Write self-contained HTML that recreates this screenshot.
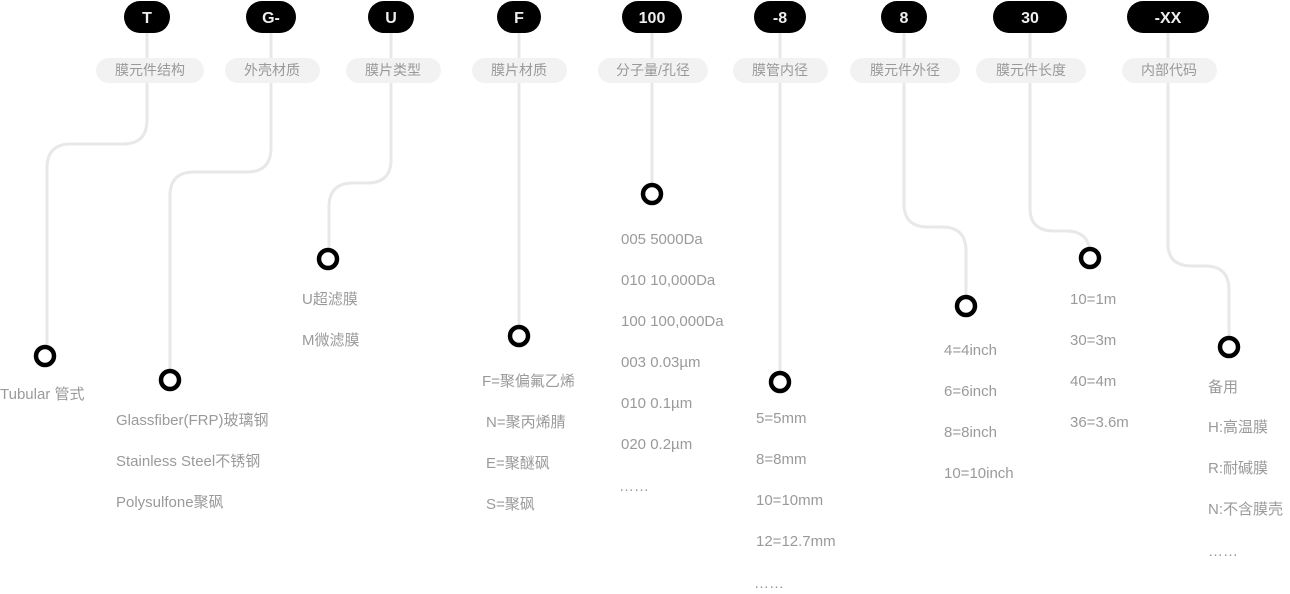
<!DOCTYPE html>
<html><head><meta charset="utf-8"><style>
html,body{margin:0;padding:0;background:#fff;}
svg{display:block;}
.t{font-family:"Liberation Sans","Noto Sans CJK SC",sans-serif;font-size:15px;fill:#9a9a9a;}
.p{font-family:"Liberation Sans",sans-serif;font-size:16px;font-weight:bold;fill:#eee;text-anchor:middle;}
.l{font-family:"Liberation Sans","Noto Sans CJK SC",sans-serif;font-size:14px;fill:#999;text-anchor:middle;}
</style></head><body>
<svg width="1290" height="594" viewBox="0 0 1290 594">
<g fill="none" stroke="#e8e8e8" stroke-width="3">
<path d="M147 33 V120 Q147 144 123 144 H71 Q47 144 47 168 V356"/>
<path d="M271 33 V148 Q271 172 247 172 H194 Q170 172 170 196 V380"/>
<path d="M391 33 V160 Q391 183 367 183 H353 Q329 183 329 207 V259"/>
<path d="M519 33 V336"/>
<path d="M652 33 V194"/>
<path d="M780 33 V382"/>
<path d="M904 33 V204 Q904 227 928 227 H942 Q966 227 966 251 V306"/>
<path d="M1030 33 V208 Q1030 231 1054 231 H1066 Q1090 231 1090 255 V258"/>
<path d="M1168 33 V244 Q1168 266 1192 266 H1205 Q1229 266 1229 290 V347"/>
</g>
<g fill="#000">
<rect x="124" y="1" width="46" height="32" rx="16"/>
<rect x="246" y="1" width="50" height="32" rx="16"/>
<rect x="368" y="1" width="46" height="32" rx="16"/>
<rect x="497" y="1" width="44" height="32" rx="16"/>
<rect x="622" y="1" width="60" height="32" rx="16"/>
<rect x="754" y="1" width="52" height="32" rx="16"/>
<rect x="881" y="1" width="46" height="32" rx="16"/>
<rect x="993" y="1" width="74" height="32" rx="16"/>
<rect x="1127" y="1" width="82" height="32" rx="16"/>
</g>
<g class="p">
<text x="147" y="23">T</text><text x="271" y="23">G-</text><text x="391" y="23">U</text>
<text x="519" y="23">F</text><text x="652" y="23">100</text><text x="780" y="23">-8</text>
<text x="904" y="23">8</text><text x="1030" y="23">30</text><text x="1168" y="23">-XX</text>
</g>
<g fill="#f2f2f2">
<rect x="96" y="58" width="108" height="25" rx="12.5"/>
<rect x="225" y="58" width="95" height="25" rx="12.5"/>
<rect x="346" y="58" width="95" height="25" rx="12.5"/>
<rect x="472" y="58" width="95" height="25" rx="12.5"/>
<rect x="598" y="58" width="110" height="25" rx="12.5"/>
<rect x="733" y="58" width="95" height="25" rx="12.5"/>
<rect x="850" y="58" width="110" height="25" rx="12.5"/>
<rect x="976" y="58" width="110" height="25" rx="12.5"/>
<rect x="1122" y="58" width="95" height="25" rx="12.5"/>
</g>
<g class="l">
<text x="150" y="75">膜元件结构</text><text x="272" y="75">外壳材质</text><text x="393" y="75">膜片类型</text>
<text x="519" y="75">膜片材质</text><text x="653" y="75">分子量/孔径</text><text x="780" y="75">膜管内径</text>
<text x="905" y="75">膜元件外径</text><text x="1031" y="75">膜元件长度</text><text x="1169" y="75">内部代码</text>
</g>
<g fill="#fff" stroke="#000" stroke-width="4.5">
<circle cx="45" cy="356" r="9"/><circle cx="170" cy="380" r="9"/><circle cx="328" cy="259" r="9"/>
<circle cx="519" cy="336" r="9"/><circle cx="652" cy="194" r="9"/><circle cx="780" cy="382" r="9"/>
<circle cx="966" cy="306" r="9"/><circle cx="1090" cy="258" r="9"/><circle cx="1229" cy="347" r="9"/>
</g>
<g class="t">
<text x="0" y="399">Tubular 管式</text>
<text x="116" y="425">Glassfiber(FRP)玻璃钢</text><text x="116" y="466">Stainless Steel不锈钢</text><text x="116" y="507">Polysulfone聚砜</text>
<text x="302" y="304">U超滤膜</text><text x="302" y="345">M微滤膜</text>
<text x="482" y="386">F=聚偏氟乙烯</text><text x="486" y="427">N=聚丙烯腈</text><text x="486" y="468">E=聚醚砜</text><text x="486" y="509">S=聚砜</text>
<text x="621" y="244">005 5000Da</text><text x="621" y="285">010 10,000Da</text><text x="621" y="326">100 100,000Da</text><text x="621" y="367">003  0.03µm</text><text x="621" y="408">010 0.1µm</text><text x="621" y="449">020 0.2µm</text><text x="619" y="491">……</text>
<text x="756" y="423">5=5mm</text><text x="756" y="464">8=8mm</text><text x="756" y="505">10=10mm</text><text x="756" y="546">12=12.7mm</text><text x="754" y="588">……</text>
<text x="944" y="355">4=4inch</text><text x="944" y="396">6=6inch</text><text x="944" y="437">8=8inch</text><text x="944" y="478">10=10inch</text>
<text x="1070" y="304">10=1m</text><text x="1070" y="345">30=3m</text><text x="1070" y="386">40=4m</text><text x="1070" y="427">36=3.6m</text>
<text x="1208" y="392">备用</text><text x="1208" y="432">H:高温膜</text><text x="1208" y="473">R:耐碱膜</text><text x="1208" y="514">N:不含膜壳</text><text x="1208" y="556">……</text>
</g>
</svg>
</body></html>
